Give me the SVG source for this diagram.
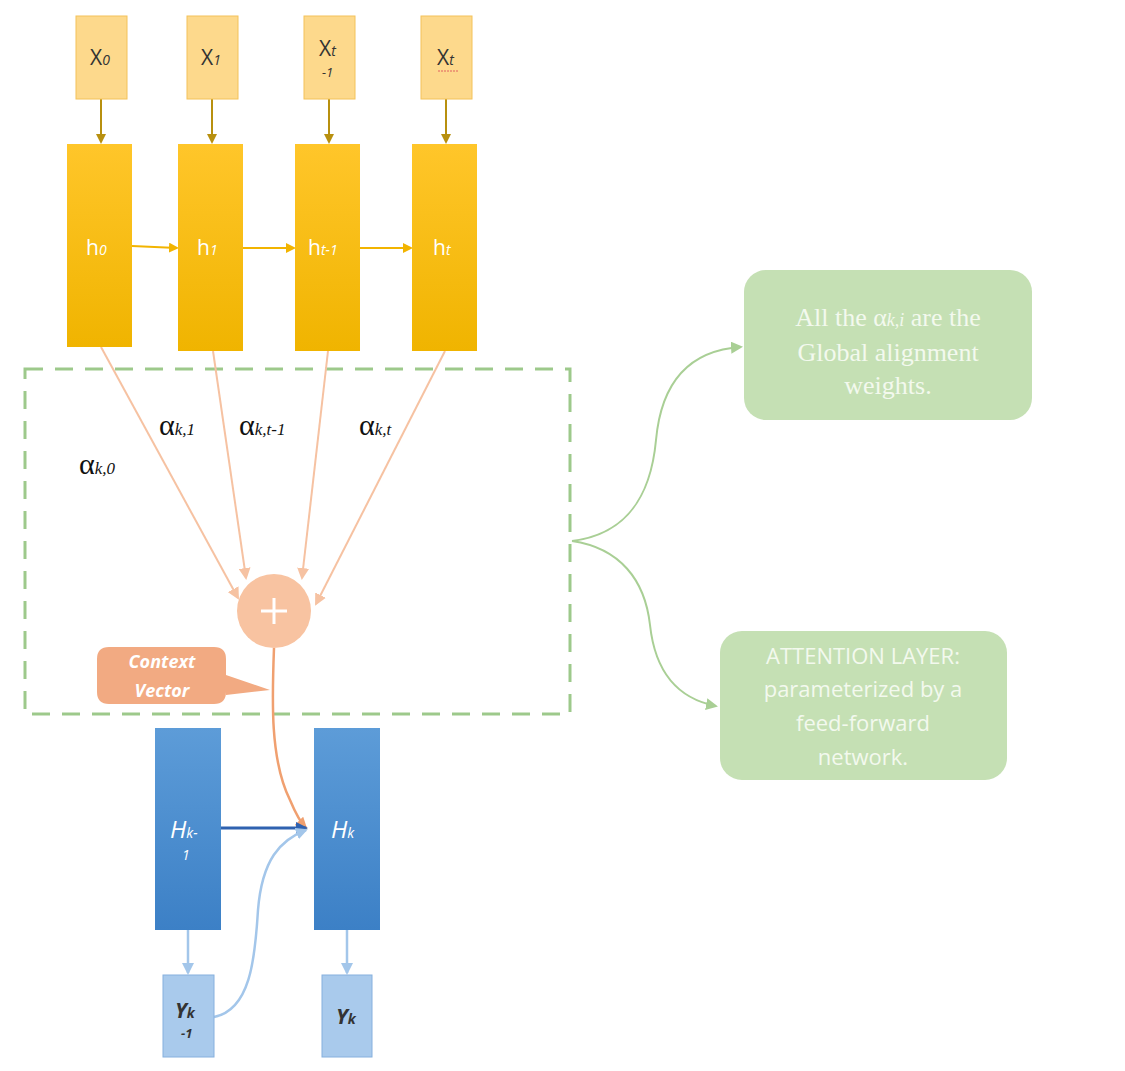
<svg xmlns="http://www.w3.org/2000/svg" width="1125" height="1071" viewBox="0 0 1125 1071">
<style>
.xbox{fill:#FDD98C;stroke:#F3C25A;stroke-width:1}
.hbox{fill:url(#gold)}
.Hbox{fill:url(#blue)}
.ybox{fill:#A9CAEC;stroke:#86B0DE;stroke-width:1}
.xt{font-family:"Open Sans","Liberation Sans",sans-serif;font-size:21px;fill:#333}
.ht{font-family:"Open Sans","Liberation Sans",sans-serif;font-size:21px;fill:#fff}
.Ht{font-family:"Open Sans","Liberation Sans",sans-serif;font-size:24px;fill:#fff;font-style:italic}
.sub{font-style:italic;font-size:14px}
.al{font-family:"Liberation Serif","DejaVu Serif",serif;font-size:30px;fill:#111}
.als{font-style:italic;font-size:17px}
.gx{stroke:#B8900F;stroke-width:2;fill:none;marker-end:url(#mgx)}
.gh{stroke:#F2B400;stroke-width:2;fill:none;marker-end:url(#mgh)}
.pe{stroke:#F6C2A2;stroke-width:2;fill:none;marker-end:url(#mpe)}
.gr{stroke:#A9CF95;stroke-width:2;fill:none;marker-end:url(#mgr)}
.green{fill:#C5E0B4}
.gtxt{font-size:22px;fill:#F3F9EE;text-anchor:middle}
.stxt{font-size:26px;fill:#F3F9EE;text-anchor:middle;font-family:"Liberation Serif","DejaVu Serif",serif}
</style>
<defs>
<linearGradient id="gold" x1="0" y1="0" x2="0" y2="1"><stop offset="0" stop-color="#FFC62A"/><stop offset="1" stop-color="#F0B400"/></linearGradient>
<linearGradient id="blue" x1="0" y1="0" x2="0" y2="1"><stop offset="0" stop-color="#5D9CD8"/><stop offset="1" stop-color="#3C80C6"/></linearGradient>
<marker id="mgx" markerWidth="10" markerHeight="10" refX="8" refY="5" orient="auto" markerUnits="userSpaceOnUse"><path d="M0,0 L10,5 L0,10 z" fill="#B8900F"/></marker>
<marker id="mgh" markerWidth="10" markerHeight="10" refX="8" refY="5" orient="auto" markerUnits="userSpaceOnUse"><path d="M0,0 L10,5 L0,10 z" fill="#F2B400"/></marker>
<marker id="mpe" markerWidth="12" markerHeight="12" refX="10" refY="6" orient="auto" markerUnits="userSpaceOnUse"><path d="M0,0 L12,6 L0,12 z" fill="#F6C2A2"/></marker>
<marker id="mor" markerWidth="12" markerHeight="12" refX="10" refY="6" orient="auto" markerUnits="userSpaceOnUse"><path d="M0,0 L12,6 L0,12 z" fill="#F0A070"/></marker>
<marker id="mdb" markerWidth="12" markerHeight="12" refX="10" refY="6" orient="auto" markerUnits="userSpaceOnUse"><path d="M0,0 L12,6 L0,12 z" fill="#2F62B0"/></marker>
<marker id="mlb" markerWidth="12" markerHeight="12" refX="10" refY="6" orient="auto" markerUnits="userSpaceOnUse"><path d="M0,0 L12,6 L0,12 z" fill="#A3C6EA"/></marker>
<marker id="mgr" markerWidth="12" markerHeight="12" refX="10" refY="6" orient="auto" markerUnits="userSpaceOnUse"><path d="M0,0 L12,6 L0,12 z" fill="#A9CF95"/></marker>
</defs>
<rect width="1125" height="1071" fill="#fff"/>

<g id="attention-box"><rect x="25" y="369" width="545" height="345" fill="none" stroke="#9DC98B" stroke-width="3" stroke-dasharray="18,12"/></g>

<g id="connectors">
<line class="gx" x1="101" y1="99" x2="101" y2="142"/>
<line class="gx" x1="212" y1="99" x2="212" y2="142"/>
<line class="gx" x1="329" y1="99" x2="329" y2="142"/>
<line class="gx" x1="446" y1="99" x2="446" y2="142"/>
<line class="gh" x1="132" y1="246" x2="177" y2="248"/>
<line class="gh" x1="243" y1="248" x2="294" y2="248"/>
<line class="gh" x1="360" y1="248" x2="411" y2="248"/>
<line class="pe" x1="101" y1="347" x2="238" y2="598"/>
<line class="pe" x1="213" y1="351" x2="246" y2="578"/>
<line class="pe" x1="328" y1="351" x2="302" y2="578"/>
<line class="pe" x1="445" y1="351" x2="316" y2="604"/>
<path d="M274,648 C272,700 270,760 290,800 C295,812 300,822 306,828" stroke="#F0A070" stroke-width="2.5" fill="none" marker-end="url(#mor)"/>
<line x1="221" y1="828" x2="306" y2="828" stroke="#2F62B0" stroke-width="3" marker-end="url(#mdb)"/>
<path d="M214,1017 C250,1010 255,960 258,910 C262,860 280,840 306,830" stroke="#A3C6EA" stroke-width="2.5" fill="none" marker-end="url(#mlb)"/>
<line x1="188" y1="930" x2="188" y2="973" stroke="#A3C6EA" stroke-width="2.5" marker-end="url(#mlb)"/>
<line x1="347" y1="930" x2="347" y2="973" stroke="#A3C6EA" stroke-width="2.5" marker-end="url(#mlb)"/>
<path class="gr" d="M572,541 C620,535 650,505 656,440 C662,375 695,350 741,347"/>
<path class="gr" d="M572,541 C620,548 645,580 650,625 C656,680 685,700 716,706"/>
</g>

<g id="x0"><rect class="xbox" x="76" y="16" width="51" height="83"/><text class="xt" x="90" y="65">X<tspan class="sub">0</tspan></text></g>
<g id="x1"><rect class="xbox" x="187" y="16" width="51" height="83"/><text class="xt" x="201" y="65">X<tspan class="sub">1</tspan></text></g>
<g id="xt-1"><rect class="xbox" x="304" y="16" width="51" height="83"/><text class="xt" x="319" y="56">X<tspan class="sub">t</tspan></text><text class="xt sub" x="322" y="77" style="font-size:13px">-1</text></g>
<g id="xt"><rect class="xbox" x="421" y="16" width="51" height="83"/><text class="xt" x="437" y="65">X<tspan class="sub">t</tspan></text><line x1="438" y1="71" x2="458" y2="71" stroke="#E06060" stroke-width="1" stroke-dasharray="2,1"/></g>

<g id="h0"><rect class="hbox" x="67" y="144" width="65" height="203"/><text class="ht" x="86" y="255">h<tspan class="sub">0</tspan></text></g>
<g id="h1"><rect class="hbox" x="178" y="144" width="65" height="207"/><text class="ht" x="197" y="255">h<tspan class="sub">1</tspan></text></g>
<g id="ht-1"><rect class="hbox" x="295" y="144" width="65" height="207"/><text class="ht" x="308" y="255">h<tspan class="sub">t-1</tspan></text></g>
<g id="ht"><rect class="hbox" x="412" y="144" width="65" height="207"/><text class="ht" x="433" y="255">h<tspan class="sub">t</tspan></text></g>

<g id="alphas">
<text class="al" x="79" y="474">α<tspan class="als">k,0</tspan></text>
<text class="al" x="159" y="435">α<tspan class="als">k,1</tspan></text>
<text class="al" x="239" y="435">α<tspan class="als">k,t-1</tspan></text>
<text class="al" x="359" y="435">α<tspan class="als">k,t</tspan></text>
</g>

<g id="sum"><circle cx="274" cy="611" r="37" fill="#F8C3A1"/><path d="M274,598 V624 M261,611 H287" stroke="#fff" stroke-width="3"/></g>

<g id="context-vector"><path d="M109,647 H214 Q226,647 226,659 V675 L270,690 L226,695 V692 Q226,704 214,704 H109 Q97,704 97,692 V659 Q97,647 109,647 Z" fill="#F2AA82"/>
<text x="162" y="668" text-anchor="middle" font-family="Open Sans,Liberation Sans,sans-serif" font-size="18" font-style="italic" font-weight="bold" fill="#fff">Context</text>
<text x="162" y="697" text-anchor="middle" font-family="Open Sans,Liberation Sans,sans-serif" font-size="18" font-style="italic" font-weight="bold" fill="#fff">Vector</text></g>

<g id="Hk-1"><rect class="Hbox" x="155" y="728" width="66" height="202"/><text class="Ht" x="170" y="838">H<tspan class="sub" font-size="16">k-</tspan></text><text class="ht sub" x="182" y="860" font-size="15">1</text></g>
<g id="Hk"><rect class="Hbox" x="314" y="728" width="66" height="202"/><text class="Ht" x="331" y="838">H<tspan class="sub" font-size="16">k</tspan></text></g>

<g id="Yk-1"><rect class="ybox" x="163" y="975" width="51" height="82"/><text class="xt" x="175" y="1018" font-style="italic" font-weight="bold" fill="#1F2F45">Y<tspan class="sub">k</tspan></text><text class="xt sub" x="181" y="1038" font-weight="bold" fill="#1F2F45" style="font-size:13px">-1</text></g>
<g id="Yk"><rect class="ybox" x="322" y="975" width="50" height="82"/><text class="xt" x="336" y="1024" font-style="italic" font-weight="bold" fill="#1F2F45">Y<tspan class="sub">k</tspan></text></g>

<g id="note-alignment"><rect class="green" x="744" y="270" width="288" height="150" rx="22"/>
<text class="stxt" x="888" y="326">All the α<tspan font-style="italic" font-size="18">k,i</tspan> are the</text>
<text class="stxt" x="888" y="361">Global alignment</text>
<text class="stxt" x="888" y="394">weights.</text></g>

<g id="note-attention"><rect class="green" x="720" y="631" width="287" height="149" rx="22"/>
<text class="gtxt" font-family="Open Sans,Liberation Sans,sans-serif" x="863" y="664">ATTENTION LAYER:</text>
<text class="gtxt" font-family="Open Sans,Liberation Sans,sans-serif" x="863" y="697">parameterized by a</text>
<text class="gtxt" font-family="Open Sans,Liberation Sans,sans-serif" x="863" y="731">feed-forward</text>
<text class="gtxt" font-family="Open Sans,Liberation Sans,sans-serif" x="863" y="765">network.</text></g>
</svg>
